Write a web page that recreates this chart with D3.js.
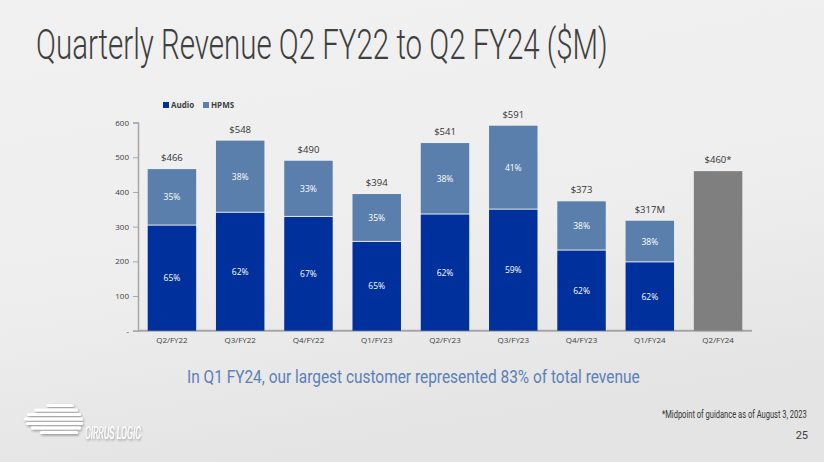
<!DOCTYPE html>
<html>
<head>
<meta charset="utf-8">
<script src="https://cdn.jsdelivr.net/npm/d3@7"></script>
<style>
  html, body { margin: 0; padding: 0; overflow: hidden; }
  body { width: 824px; height: 462px; }
</style>
</head>
<body>
<div id="chart"></div>
<script>
// quarterly revenue data ($M)
var quarters = ["Q2/FY22","Q3/FY22","Q4/FY22","Q1/FY23","Q2/FY23","Q3/FY23","Q4/FY23","Q1/FY24","Q2/FY24"];
var totals = [466, 548, 490, 394, 541, 591, 373, 317, 460];
var totalLabels = ["$466","$548","$490","$394","$541","$591","$373","$317M","$460*"];
var audio = [303, 340, 328, 256, 335, 349, 231, 197, null];
var hpms = [163, 208, 162, 138, 206, 242, 142, 120, null];
var audioPct = ["65%","62%","67%","65%","62%","59%","62%","62%",""];
var hpmsPct = ["35%","38%","33%","35%","38%","41%","38%","38%",""];
var yTicks = [0, 100, 200, 300, 400, 500, 600];
var seriesNames = ["Audio","HPMS"];

var width = 824, height = 462;
var audioColor = "#00309c", hpmsColor = "#5b7fad", guideColor = "#7f7f7f";

var svg = d3.select("#chart").append("svg")
  .attr("width", width)
  .attr("height", height);

// squeeze a text horizontally so it spans w pixels from (x, y)
function condensed(parent, x, y, w) {
  var g = parent.append("g").attr("transform", "translate(" + x + "," + y + ")");
  var t = g.append("text");
  return {
    text: t,
    fit: function() {
      var nat = t.node().getComputedTextLength();
      g.attr("transform", "translate(" + x + "," + y + ") scale(" + (w / nat) + ",1)");
    }
  };
}

// background
var defs = svg.append("defs");
var grad = defs.append("linearGradient").attr("id","bg")
  .attr("x1","0").attr("y1","0").attr("x2","0.3").attr("y2","1");
grad.append("stop").attr("offset","0").attr("stop-color","#f1f1f1");
grad.append("stop").attr("offset","0.6").attr("stop-color","#eeeeee");
grad.append("stop").attr("offset","1").attr("stop-color","#e4e4e4");
svg.append("rect").attr("width", width).attr("height", height).attr("fill","url(#bg)");

var shadow = defs.append("filter").attr("id","shadow")
  .attr("x","-20%").attr("y","-20%").attr("width","140%").attr("height","160%");
shadow.append("feDropShadow")
  .attr("dx", 1).attr("dy", 1.5).attr("stdDeviation", 1.2)
  .attr("flood-color", "#000").attr("flood-opacity", 0.35);

// title
var title = condensed(svg, 36, 59, 572);
title.text
  .attr("font-family", "Roboto, sans-serif")
  .attr("font-weight", 300)
  .attr("font-size", 42)
  .attr("fill", "#3f3f3f")
  .text("Quarterly Revenue Q2 FY22 to Q2 FY24 ($M)");
title.fit();

var x = d3.scaleBand()
  .domain(quarters)
  .range([138, 752])
  .paddingInner(0.29)
  .paddingOuter(0.142);

var y = d3.scaleLinear()
  .domain([0, 600])
  .range([330.7, 122.6]);

var font = "'Open Sans', sans-serif";

// y axis
var yAxis = svg.append("g")
  .attr("transform", "translate(138,0)")
  .call(d3.axisLeft(y).tickValues(yTicks).tickSize(5).tickPadding(4)
    .tickFormat(function(d){ return d === 0 ? "-" : d; }));
yAxis.select(".domain").attr("stroke", "#a6a6a6").attr("stroke-width", 1.5);
yAxis.selectAll(".tick line").attr("stroke", "#a6a6a6");
yAxis.selectAll(".tick text")
  .attr("font-family", font).attr("font-size", 8).attr("fill", "#404040");

// x axis line
svg.append("line")
  .attr("x1", 138).attr("x2", 752)
  .attr("y1", y(0)).attr("y2", y(0))
  .attr("stroke", "#a6a6a6").attr("stroke-width", 2);

var idx = d3.range(quarters.length);

// audio segments
svg.append("g").selectAll("rect")
  .data(idx.filter(function(i){ return audio[i] != null; }))
  .join("rect")
    .attr("x", function(i){ return x(quarters[i]); })
    .attr("width", x.bandwidth())
    .attr("y", function(i){ return y(audio[i]); })
    .attr("height", function(i){ return y(0) - y(audio[i]); })
    .attr("fill", audioColor);

// hpms segments
svg.append("g").selectAll("rect")
  .data(idx.filter(function(i){ return hpms[i] != null; }))
  .join("rect")
    .attr("x", function(i){ return x(quarters[i]); })
    .attr("width", x.bandwidth())
    .attr("y", function(i){ return y(audio[i] + hpms[i]); })
    .attr("height", function(i){ return y(audio[i]) - y(audio[i] + hpms[i]) - 1; })
    .attr("fill", hpmsColor);

// guidance bar
svg.append("g").selectAll("rect")
  .data(idx.filter(function(i){ return audio[i] == null; }))
  .join("rect")
    .attr("x", function(i){ return x(quarters[i]); })
    .attr("width", x.bandwidth())
    .attr("y", function(i){ return y(totals[i]); })
    .attr("height", function(i){ return y(0) - y(totals[i]); })
    .attr("fill", guideColor);

// percentage labels
svg.append("g").selectAll("text")
  .data(idx.filter(function(i){ return audio[i] != null; }))
  .join("text")
    .attr("x", function(i){ return x(quarters[i]) + x.bandwidth() / 2; })
    .attr("y", function(i){ return (y(0) + y(audio[i])) / 2; })
    .attr("dy", "0.35em")
    .attr("text-anchor", "middle")
    .attr("font-family", font).attr("font-size", 8.5)
    .attr("fill", "#ffffff")
    .text(function(i){ return audioPct[i]; });

svg.append("g").selectAll("text")
  .data(idx.filter(function(i){ return hpms[i] != null; }))
  .join("text")
    .attr("x", function(i){ return x(quarters[i]) + x.bandwidth() / 2; })
    .attr("y", function(i){ return (y(audio[i]) + y(audio[i] + hpms[i])) / 2; })
    .attr("dy", "0.35em")
    .attr("text-anchor", "middle")
    .attr("font-family", font).attr("font-size", 8.5)
    .attr("fill", "#ffffff")
    .text(function(i){ return hpmsPct[i]; });

// total labels
svg.append("g").selectAll("text")
  .data(idx)
  .join("text")
    .attr("x", function(i){ return x(quarters[i]) + x.bandwidth() / 2; })
    .attr("y", function(i){ return y(totals[i]) - 8; })
    .attr("text-anchor", "middle")
    .attr("font-family", font).attr("font-size", 9.5)
    .attr("fill", "#333333")
    .text(function(i){ return totalLabels[i]; });

// category labels
svg.append("g").selectAll("text")
  .data(quarters)
  .join("text")
    .attr("x", function(d){ return x(d) + x.bandwidth() / 2; })
    .attr("y", 343)
    .attr("text-anchor", "middle")
    .attr("font-family", font).attr("font-size", 8)
    .attr("fill", "#404040")
    .text(function(d){ return d; });

// legend
var legend = svg.append("g").selectAll("g")
  .data(seriesNames)
  .join("g")
    .attr("transform", function(d, i){ return "translate(" + (163 + i * 40) + ",102)"; });
legend.append("rect")
  .attr("width", 6).attr("height", 6)
  .attr("fill", function(d, i){ return i === 0 ? audioColor : hpmsColor; });
legend.append("text")
  .attr("x", 8).attr("y", 6)
  .attr("font-family", font).attr("font-size", 8).attr("font-weight", 700)
  .attr("fill", "#404040")
  .text(function(d){ return d; });

// subtitle
var sub = condensed(svg, 187, 383, 453);
sub.text
  .attr("font-family", "Roboto, sans-serif")
  .attr("font-size", 19)
  .attr("fill", "#5b80b8")
  .text("In Q1 FY24, our largest customer represented 83% of total revenue");
sub.fit();

// footnote and page number
var note = condensed(svg, 662, 418, 145);
note.text
  .attr("font-family", "Roboto, sans-serif")
  .attr("font-size", 10)
  .attr("fill", "#333333")
  .text("*Midpoint of guidance as of August 3, 2023");
note.fit();
svg.append("text")
  .attr("x", 808).attr("y", 439)
  .attr("text-anchor", "end")
  .attr("font-family", "Roboto, sans-serif")
  .attr("font-size", 11)
  .attr("fill", "#404040")
  .text("25");

// logo
var logo = svg.append("g").attr("filter", "url(#shadow)");
var logoLines = [[46, 404, 28], [34, 408.5, 44], [27, 413, 54], [24, 417.5, 59], [26, 422, 57], [31, 426.5, 50], [40, 431, 38]];
logo.selectAll("rect")
  .data(logoLines)
  .join("rect")
    .attr("x", function(d){ return d[0]; })
    .attr("y", function(d){ return d[1]; })
    .attr("width", function(d){ return d[2]; })
    .attr("height", 3)
    .attr("rx", 1.5)
    .attr("fill", "#ffffff");
var logoText = condensed(logo, 85, 439, 56);
logoText.text
  .attr("font-family", "Roboto, sans-serif")
  .attr("font-style", "italic")
  .attr("font-size", 18)
  .attr("fill", "#ffffff")
  .text("CIRRUS LOGIC");
logoText.fit();
</script>
</body>
</html>
